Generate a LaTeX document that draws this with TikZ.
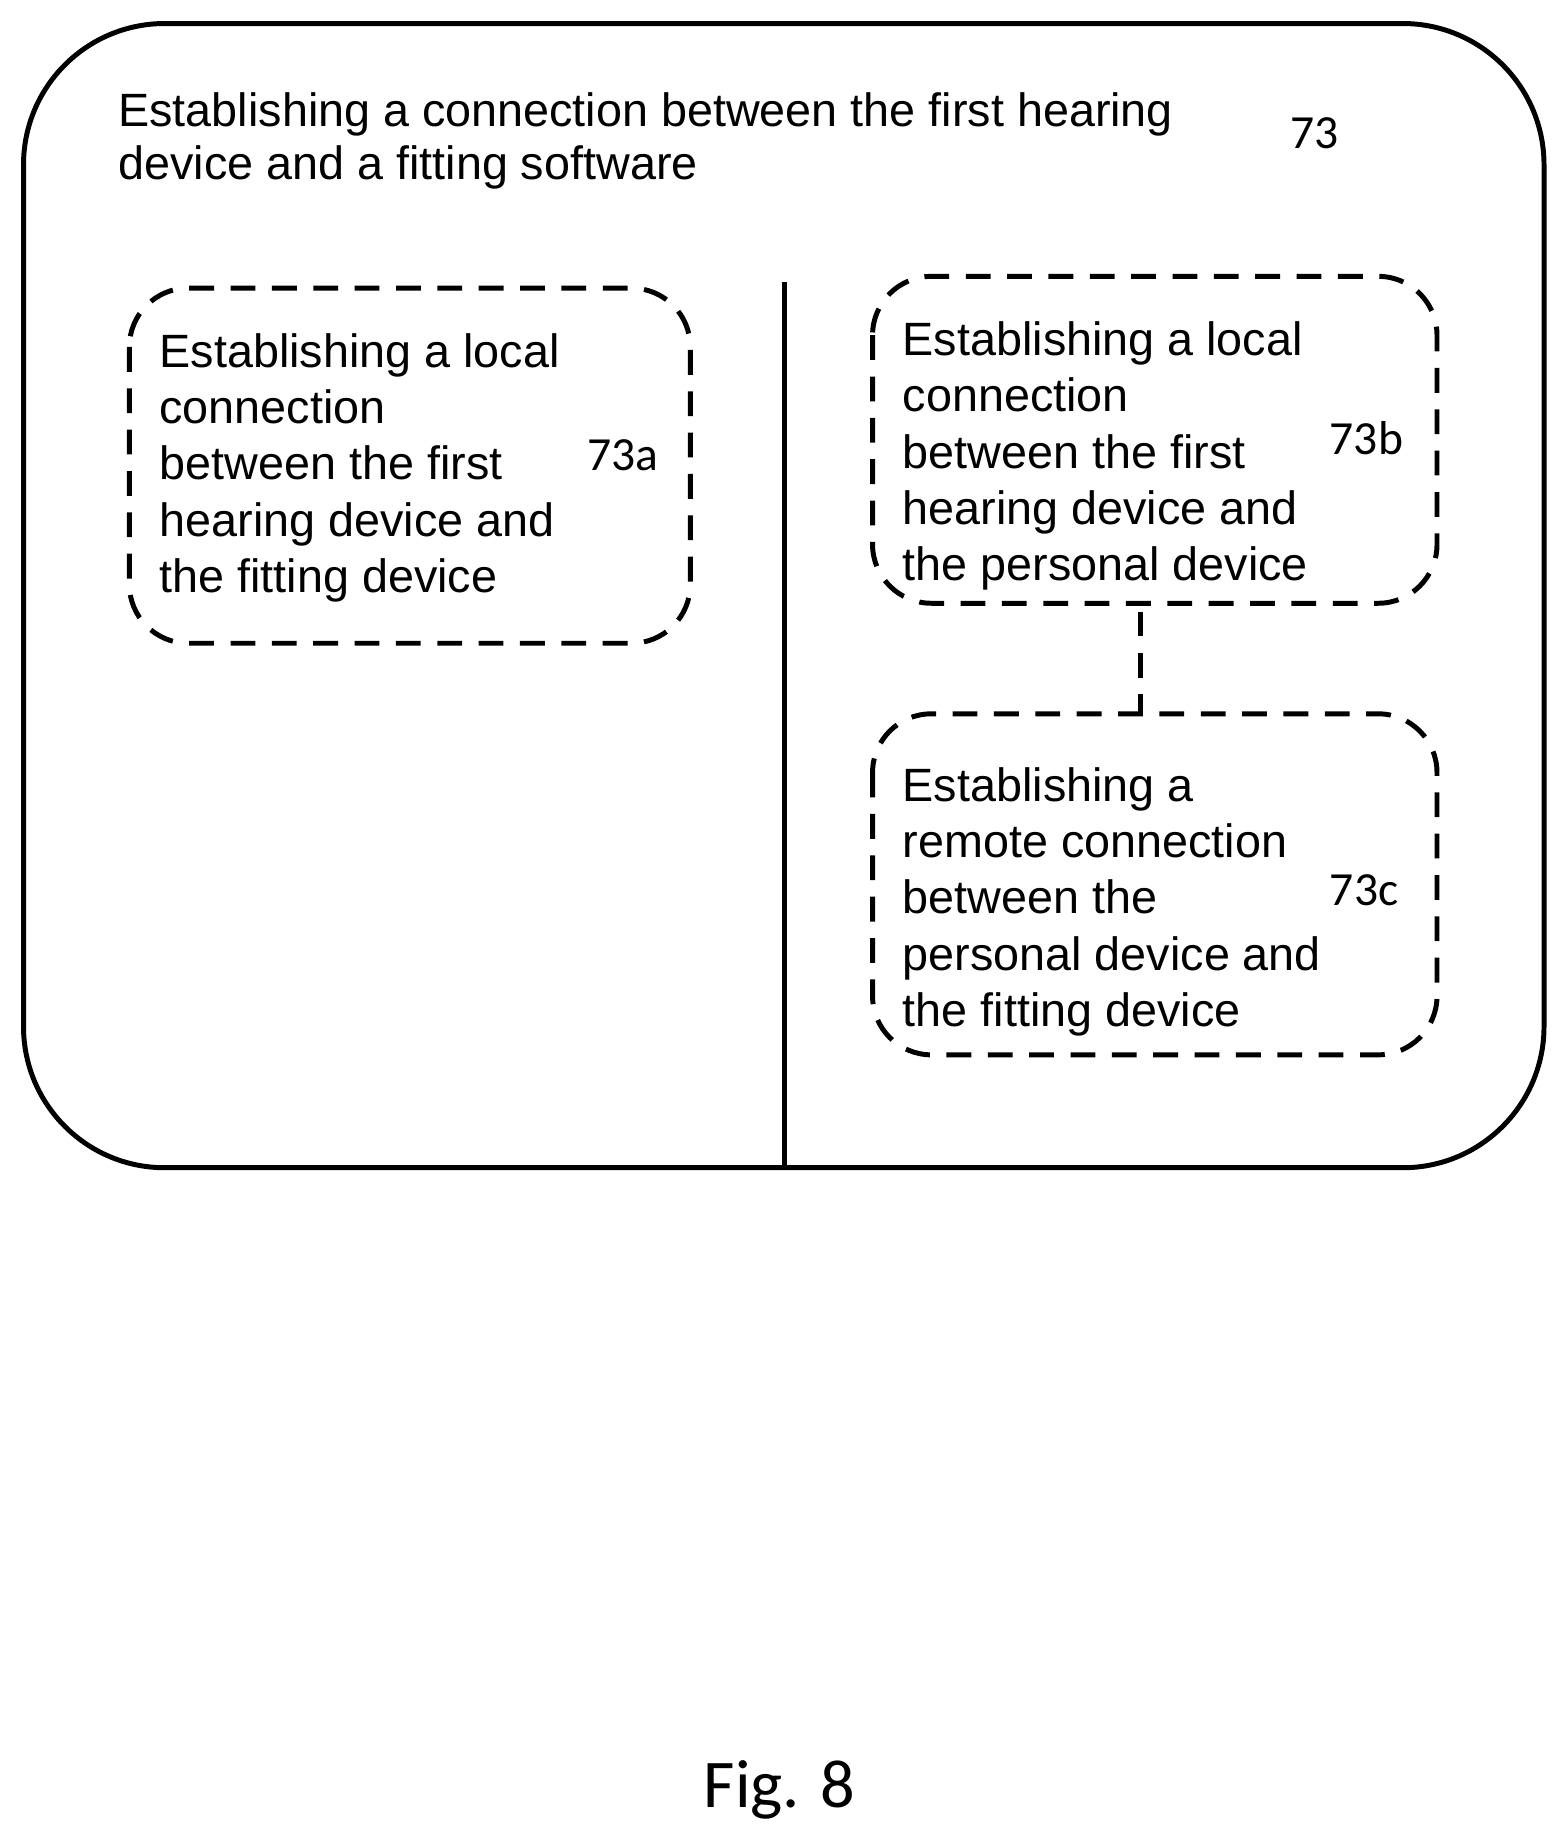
\documentclass[tikz,border=0pt]{standalone}
\usepackage{fontspec}
\setmainfont{Liberation Sans}
\newfontfamily\numfont{Carlito}
\usetikzlibrary{positioning}

\begin{document}
\begin{tikzpicture}[x=0.01cm,y=-0.01cm,
    outerbox/.style={draw,line width=1.2pt,rounded corners=1.2cm},
    substep/.style={draw,line width=1.2pt,dash pattern=on 6pt off 4pt,rounded corners=0.5cm},
    steptext/.style={anchor=north west,align=left,inner sep=0pt,font=\fontsize{11.3}{13.6}\selectfont},
    reflabel/.style={font=\numfont\fontsize{11.5}{13}\selectfont}]
    \useasboundingbox (0,0) rectangle (1330,1563);

    % Main step
    \draw[outerbox] (20,20) rectangle (1313,993);
    \node[steptext,font=\fontsize{11.3}{12.8}\selectfont] (title) at (100,78)
        {Establishing a connection between the first hearing\\device and a fitting software};
    \node[reflabel] (n73) at (1118,113) {73};

    % Divider
    \coordinate (divtop) at (667,240);
    \coordinate (divbot) at (667,993);
    \draw[line width=1.2pt] (divtop) -- (divbot);

    % Local connection to fitting device
    \draw[substep] (110,245) rectangle (587,547);
    \node[steptext] (sa) at (135,283)
        {Establishing a local\\connection\\between the first\\hearing device and\\the fitting device};
    \node[reflabel] (n73a) at (530,387) {73a};

    % Local connection to personal device
    \draw[substep] (742,235) rectangle (1222,513);
    \node[steptext] (sb) at (767,273)
        {Establishing a local\\connection\\between the first\\hearing device and\\the personal device};
    \node[reflabel] (n73b) at (1162,373) {73b};

    % Remote connection
    \draw[substep] (742,607) rectangle (1222,897);
    \node[steptext] (sc) at (767,652)
        {Establishing a\\remote connection\\between the\\personal device and\\the fitting device};
    \node[reflabel] (n73c) at (1160,757) {73c};

    \coordinate (btm) at (970,520);
    \coordinate (ctop) at (970,607);
    \draw[line width=1.2pt,dash pattern=on 6pt off 4pt] (btm) -- (ctop);

    \node[font=\numfont\fontsize{16.5}{20}\selectfont] (fig) at (663,1522) {Fig. 8};
\end{tikzpicture}
\end{document}
